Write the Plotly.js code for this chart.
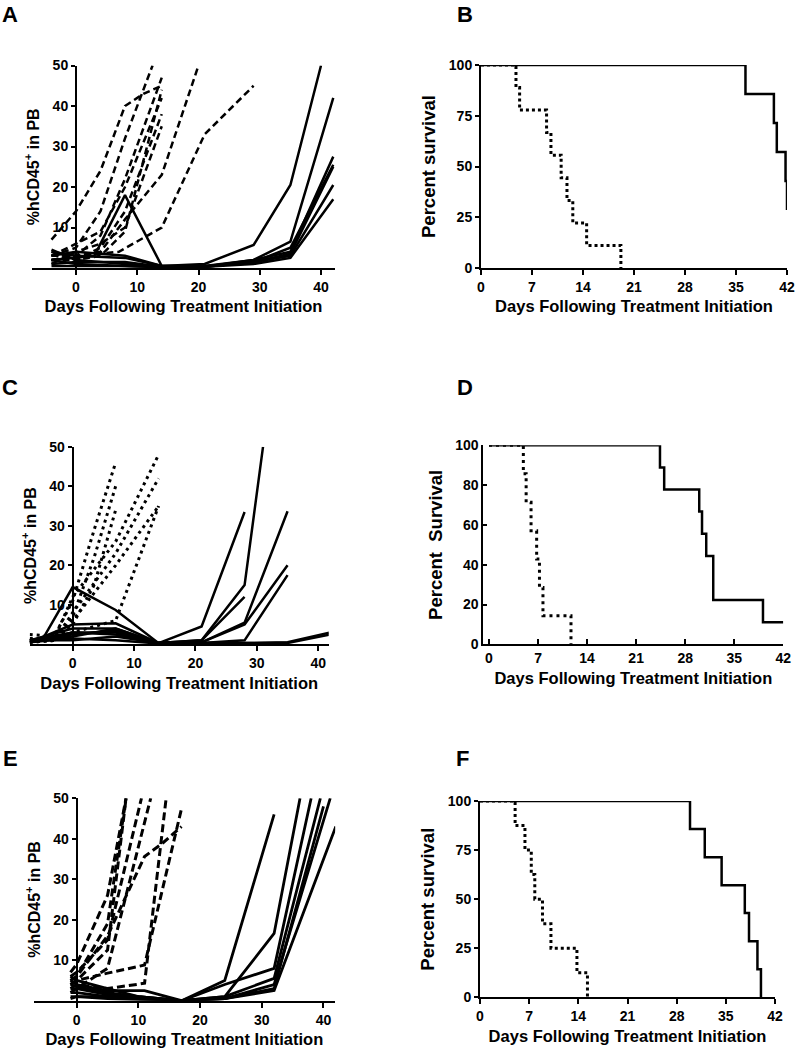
<!DOCTYPE html>
<html><head><meta charset="utf-8">
<script src="https://cdn.plot.ly/plotly-3.0.1.min.js"></script>
<style>html,body{margin:0;padding:0;background:#fff}#chart{width:797px;height:1050px}</style>
</head><body><div id="chart"></div>
<script>
// ---------- Panel A : %hCD45+ in PB (dashed = control, solid = treated) ----------
const A_ctrl_x = [
  [-4, 0, 4, 8, 11, 14],
  [-4, 0, 4, 8, 12.5],
  [-4, 0, 4, 8, 14],
  [-4, 0, 4, 8, 14],
  [-4, 0, 4, 8, 14],
  [-4, 0, 4, 8, 14],
  [-4, 0, 4, 8, 14, 20],
  [-4, 0, 7, 14, 21, 29],
  [-4, 0, 4, 8, 14]
];
const A_ctrl_y = [
  [7, 14, 24, 40, 43, 45],
  [3, 5, 14, 32, 50],
  [2, 3, 8, 22, 47],
  [3, 6, 9, 20, 42],
  [2, 2, 5, 14, 38],
  [1, 4, 6, 10, 35],
  [2, 3, 4, 12, 23, 50],
  [3, 3, 4, 10, 33, 45],
  [4, 2, 3, 9, 44]
];
const A_trt_x = [
  [-4, 0, 3, 8, 14, 21, 29, 35, 42],
  [-4, 0, 8, 14, 21, 29, 35, 40],
  [-4, 0, 8, 14, 21, 29, 35, 42],
  [-4, 0, 8, 14, 21, 29, 35, 42],
  [-4, 0, 8, 14, 21, 29, 35, 42],
  [-4, 0, 8, 14, 21, 29, 35, 42],
  [-4, 0, 8, 14, 21, 29, 35, 42]
];
const A_trt_y = [
  [2, 2.5, 3, 18, 0.5, 0.5, 1.5, 3.5, 25],
  [4, 3, 2.5, 0.5, 1, 5.7, 20.5, 50],
  [3, 4, 3, 0.5, 0.5, 2, 6.5, 42],
  [4.5, 2, 1, 0.3, 0.3, 2, 4, 27.5],
  [1, 1.5, 1.5, 0.3, 0.3, 1.5, 3, 20.5],
  [2, 1, 0.5, 0.2, 0.3, 1, 2.5, 17],
  [0.5, 0.5, 0.5, 0.2, 0.3, 1.5, 5, 25.5]
];

// ---------- Panel B : survival ----------
const B_ctrl_days = [0, 4.8, 5.3, 9.0, 9.6, 11.0, 11.8, 12.6, 14.5, 19.2];
const B_ctrl_pct  = [100, 88.9, 77.8, 66.7, 55.6, 44.4, 33.3, 22.2, 11.1, 0];
const B_trt_days  = [0, 36.3, 40.2, 40.6, 41.8, 42];
const B_trt_pct   = [100, 85.7, 71.4, 57.1, 42.9, 28.6];

// ---------- Panel C : %hCD45+ in PB (dotted = control, solid = treated) ----------
const C_ctrl_x = [
  [-7, -3, 0, 3.5, 7],
  [-7, -3, 0, 3.5, 7],
  [-7, -3, 0, 3.5, 7],
  [-7, -3, 0, 7, 14],
  [-7, -3, 0, 7, 14],
  [-7, -3, 0, 7, 14],
  [-7, -3, 0, 7, 14]
];
const C_ctrl_y = [
  [2.5, 2, 11, 29, 46],
  [1.5, 1, 7, 22, 40],
  [1, 1, 5, 15, 34],
  [1, 1.5, 12, 26, 48],
  [1, 1, 8, 23, 42],
  [0.5, 1, 6, 20, 35],
  [0.5, 1, 3, 6, 35]
];
const C_trt_x = [
  [-7, -5, 0, 7, 14, 21, 28],
  [-7, 0, 7, 14, 21, 28, 31],
  [-7, 0, 7, 14, 21, 28],
  [-7, 0, 7, 14, 21, 28, 35],
  [-7, 0, 7, 14, 21, 28, 35],
  [-7, 0, 7, 14, 21, 28, 35],
  [-7, 0, 7, 14, 21, 28, 35, 42],
  [-7, 0, 7, 14, 21, 28, 35, 42],
  [-7, 0, 7, 14, 21, 28, 35]
];
const C_trt_y = [
  [1, 1, 14.5, 8.7, 0.3, 4.5, 33.5],
  [0.5, 5, 5.3, 0.3, 1, 15, 50],
  [1, 4, 4, 0.3, 1, 12],
  [1, 3, 3, 0.3, 0.5, 5.5, 33.7],
  [0.5, 2, 4, 0.3, 0.5, 5, 20],
  [1, 1, 2, 0.3, 0.3, 1, 17.5],
  [0.5, 3, 2.5, 0.3, 0.3, 0.3, 0.5, 3],
  [0.5, 1.5, 1, 0.2, 0.2, 0.2, 0.3, 2.5],
  [1, 2.5, 3.5, 0.3, 0.3, 0.3, 0.3]
];

// ---------- Panel D : survival ----------
const D_ctrl_days = [0, 4.9, 5.3, 6.0, 6.8, 7.2, 7.7, 11.7];
const D_ctrl_pct  = [100, 85.7, 71.4, 57.1, 42.9, 28.6, 14.3, 0];
const D_trt_days  = [0, 24.4, 25.0, 30.0, 30.4, 31.0, 32.0, 39.1, 42];
const D_trt_pct   = [100, 88.9, 77.8, 66.7, 55.6, 44.4, 22.2, 11.1, 11.1];

// ---------- Panel E : %hCD45+ in PB (dashed = control, solid = treated) ----------
const E_ctrl_x = [
  [-1, 0, 5, 8],
  [-1, 0, 5, 8],
  [-1, 0, 5, 8],
  [-1, 0, 5, 10.5],
  [-1, 0, 5, 12],
  [-1, 0, 5, 11, 14, 17],
  [-1, 0, 5, 11, 17],
  [-1, 0, 5, 11, 14.5]
];
const E_ctrl_y = [
  [7, 9, 26, 50],
  [5, 6, 19, 50],
  [4, 5, 12.5, 50],
  [6, 7, 15, 50],
  [2, 3, 8, 50],
  [5, 6, 16, 35.6, 39, 43],
  [4, 5, 6.8, 8.8, 47.5],
  [3, 4, 3, 4.3, 50]
];
const E_trt_x = [
  [-1, 0, 5, 10, 17, 24, 32],
  [-1, 0, 5, 11, 17, 24, 32, 36.2],
  [-1, 0, 5, 10, 17, 24, 32, 38],
  [-1, 0, 5, 10, 17, 24, 32, 39.5],
  [-1, 0, 5, 10, 17, 24, 32, 41.1],
  [-1, 0, 5, 10, 17, 24, 32, 42],
  [-1, 0, 5, 10, 17, 24, 32, 40]
];
const E_trt_y = [
  [6, 5, 3, 1, 0, 5, 46],
  [5, 4, 2.5, 2.5, 0, 1, 16.6, 50],
  [4, 3.5, 2, 1, 0, 4, 8, 50],
  [3, 3, 1.5, 1, 0, 1, 5.5, 50],
  [2, 2, 1, 0.5, 0, 0.5, 4, 50],
  [1, 1, 1, 0.5, 0, 0.5, 2.5, 43],
  [0.5, 1, 0.5, 0.3, 0, 0.5, 3, 48]
];

// ---------- Panel F : survival ----------
const F_ctrl_days = [0, 5.0, 6.4, 7.3, 7.8, 8.9, 10.1, 13.8, 15.3];
const F_ctrl_pct  = [100, 87.5, 75, 62.5, 50, 37.5, 25, 12.5, 0];
const F_trt_days  = [0, 29.9, 32.0, 34.4, 37.7, 38.3, 39.5, 40.0];
const F_trt_pct   = [100, 85.7, 71.4, 57.1, 42.9, 28.6, 14.3, 0];

// ---------- tick labels / titles ----------
const pbTicks = [10, 20, 30, 40, 50];
const dayTicksPB = [0, 10, 20, 30, 40];
const dayTicksSurv = [0, 7, 14, 21, 28, 35, 42];
const survTicks25 = [0, 25, 50, 75, 100];
const survTicks20 = [0, 20, 40, 60, 80, 100];
const xTitle = 'Days Following Treatment Initiation';
const yTitlePB = '%hCD45<sup>+</sup> in PB';
const panelLabels = ['A', 'B', 'C', 'D', 'E', 'F'];

// ---------- build ----------
const W = 797, H = 1050;
const FONT = 'Liberation Sans, Arial, Helvetica, sans-serif';
const traces = [];
function addLines(xs, ys, ax, dash, width) {
  xs.forEach((x, i) => traces.push({
    x: x, y: ys[i], xaxis: 'x' + ax, yaxis: 'y' + ax, type: 'scatter', mode: 'lines',
    line: {color: '#000', width: width, dash: dash}, hoverinfo: 'skip', showlegend: false
  }));
}
function addStep(x, y, ax, dash, width) {
  traces.push({x: x, y: y, xaxis: 'x' + ax, yaxis: 'y' + ax, type: 'scatter', mode: 'lines',
    line: {color: '#000', width: width, dash: dash, shape: 'hv'}, hoverinfo: 'skip', showlegend: false});
}
addLines(A_ctrl_x, A_ctrl_y, 1, '7px,4px', 2.5);
addLines(A_trt_x, A_trt_y, 1, 'solid', 2.5);
addStep(B_ctrl_days, B_ctrl_pct, 2, '3px,3px', 3);
addStep(B_trt_days, B_trt_pct, 2, 'solid', 2.5);
addLines(C_ctrl_x, C_ctrl_y, 3, '3px,4px', 3);
addLines(C_trt_x, C_trt_y, 3, 'solid', 2.5);
addStep(D_ctrl_days, D_ctrl_pct, 4, '3px,4px', 3);
addStep(D_trt_days, D_trt_pct, 4, 'solid', 2.5);
addLines(E_ctrl_x, E_ctrl_y, 5, '8px,4px', 3);
addLines(E_trt_x, E_trt_y, 5, 'solid', 2.8);
addStep(F_ctrl_days, F_ctrl_pct, 6, '3px,3px', 3);
addStep(F_trt_days, F_trt_pct, 6, 'solid', 2.5);

function xd(a, b) { return [a / W, b / W]; }
function yd(top, bot) { return [1 - bot / H, 1 - top / H]; }
const xTickFont = {family: FONT, size: 14, color: '#000', weight: 'bold'};
const yTickFont = {family: FONT, size: 14, color: '#000', weight: 'bold'};
const xTitleFont = {family: FONT, size: 16.5, color: '#000', weight: 'bold'};
function xa(range, dom, anchor, tickvals, ticks) {
  return {range: range, domain: dom, anchor: anchor, showline: true, linecolor: '#000', linewidth: 2,
    ticks: ticks || 'outside', ticklen: 5, tickwidth: 2, tickcolor: '#000', tickvals: tickvals,
    showgrid: false, zeroline: false, tickfont: xTickFont, fixedrange: true,
    title: {text: xTitle, font: xTitleFont, standoff: 7}};
}
function ya(range, dom, anchorOrPos, tickvals, title, tsize, ticks) {
  const o = {range: range, domain: dom, showline: true, linecolor: '#000', linewidth: 2,
    ticks: ticks || 'outside', ticklen: 4, tickwidth: 2, tickcolor: '#000', tickvals: tickvals,
    showgrid: false, zeroline: false, tickfont: yTickFont, fixedrange: true,
    title: {text: title, font: {family: FONT, size: tsize, color: '#000', weight: 'bold'}, standoff: 8}};
  if (typeof anchorOrPos === 'number') { o.anchor = 'free'; o.position = anchorOrPos / W; }
  else { o.anchor = anchorOrPos; }
  return o;
}
const layout = {
  width: W, height: H, margin: {l: 0, r: 0, t: 0, b: 0},
  paper_bgcolor: '#fff', plot_bgcolor: 'rgba(0,0,0,0)', showlegend: false,
  font: {family: FONT, color: '#000'},
  xaxis:  xa([-7.2, 42.3], xd(31.9, 335.1), 'y', dayTicksPB),
  yaxis:  ya([0, 50], yd(65.5, 268), 76, pbTicks, yTitlePB, 16),
  xaxis2: xa([0, 42], xd(481, 787), 'y2', dayTicksSurv),
  yaxis2: ya([0, 100], yd(65, 268), 'x2', survTicks25, 'Percent survival', 18.5),
  xaxis3: xa([-7, 41.7], xd(29.7, 328.7), 'y3', dayTicksPB),
  yaxis3: ya([0, 50], yd(446.8, 644.3), 72.7, pbTicks, yTitlePB, 16),
  xaxis4: xa([-0.8, 42], xd(483.4, 783.3), 'y4', dayTicksSurv, 'inside'),
  yaxis4: ya([0, 100], yd(445.3, 644.3), 'x4', survTicks20, 'Percent\u00a0 Survival', 18.5, 'inside'),
  xaxis5: xa([-7, 41.9], xd(33.5, 335.2), 'y5', dayTicksPB),
  yaxis5: ya([0, 50], yd(798.2, 1000.7), 76.7, pbTicks, yTitlePB, 16),
  xaxis6: xa([0, 42], xd(480, 775), 'y6', dayTicksSurv),
  yaxis6: ya([0, 100], yd(801, 997.3), 'x6', survTicks25, 'Percent survival', 18.5),
  annotations: [[10, 15], [465, 15], [10, 387], [465, 387], [10, 758], [463, 758]].map((p, i) => ({
    text: panelLabels[i], xref: 'paper', yref: 'paper', x: p[0] / W, y: 1 - p[1] / H,
    xanchor: 'center', yanchor: 'middle', showarrow: false,
    font: {family: FONT, size: 22, color: '#000', weight: 'bold'}
  }))
};
Plotly.newPlot('chart', traces, layout, {staticPlot: true, displayModeBar: false});
</script></body></html>
